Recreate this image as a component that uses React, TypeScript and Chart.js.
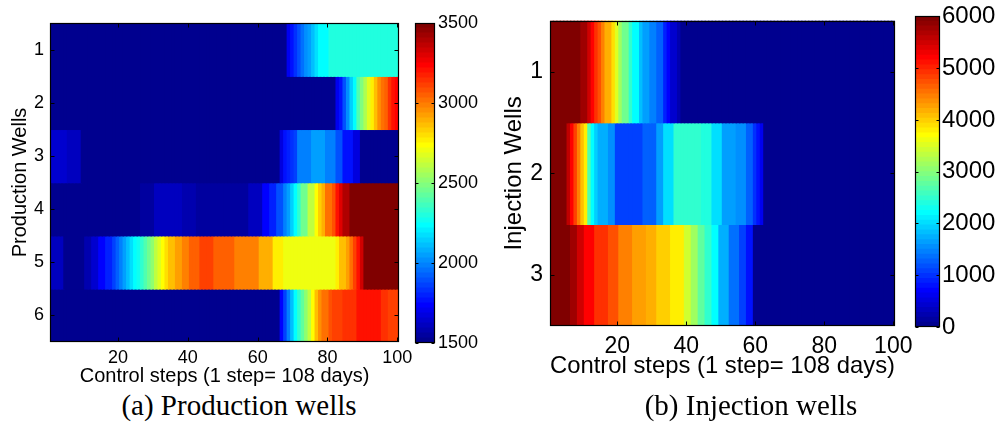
import React, { useEffect, useRef } from 'react';
import { Chart, registerables } from 'chart.js';

Chart.register(...registerables);

// ---------------- data ----------------
const steps: string[] = Array.from({ length: 100 }, (_, i) => String(i + 1));
const stepTickLabels = ['20', '40', '60', '80', '100'];
const productionWells = ['1', '2', '3', '4', '5', '6'];
const injectionWells = ['1', '2', '3'];
const productionRange = [1500, 3500];
const injectionRange = [0, 6000];
const productionBarTicks = [1500, 2000, 2500, 3000, 3500];
const injectionBarTicks = [0, 1000, 2000, 3000, 4000, 5000, 6000];

const prodWell1 = [
  1500, 1500, 1500, 1500, 1500, 1500, 1500, 1500, 1500, 1500,
  1500, 1500, 1500, 1500, 1500, 1500, 1500, 1500, 1500, 1500,
  1500, 1500, 1500, 1500, 1500, 1500, 1500, 1500, 1500, 1500,
  1500, 1500, 1500, 1500, 1500, 1500, 1500, 1500, 1500, 1500,
  1500, 1500, 1500, 1500, 1500, 1500, 1500, 1500, 1500, 1500,
  1500, 1500, 1500, 1500, 1500, 1500, 1500, 1500, 1500, 1500,
  1500, 1500, 1500, 1500, 1500, 1500, 1500, 1500, 1700, 1760,
  1820, 1880, 1940, 2000, 2060, 2120, 2180, 2230, 2240, 2240,
  2290, 2290, 2290, 2290, 2290, 2290, 2290, 2290, 2290, 2290,
  2290, 2290, 2290, 2290, 2290, 2300, 2300, 2300, 2300, 2300,
];
const prodWell2 = [
  1500, 1500, 1500, 1500, 1500, 1500, 1500, 1500, 1500, 1500,
  1500, 1500, 1500, 1500, 1500, 1500, 1500, 1500, 1500, 1500,
  1500, 1500, 1500, 1500, 1500, 1500, 1500, 1500, 1500, 1500,
  1500, 1500, 1500, 1500, 1500, 1500, 1500, 1500, 1500, 1500,
  1500, 1500, 1500, 1500, 1500, 1500, 1500, 1500, 1500, 1500,
  1500, 1500, 1500, 1500, 1500, 1500, 1500, 1500, 1500, 1500,
  1500, 1500, 1500, 1500, 1500, 1500, 1500, 1500, 1500, 1500,
  1500, 1500, 1500, 1500, 1500, 1500, 1500, 1500, 1500, 1500,
  1500, 1500, 1700, 1780, 1900, 2020, 2130, 2230, 2400, 2480,
  2580, 2680, 2760, 2860, 2940, 3000, 3060, 3140, 3200, 3240,
];
const prodWell3 = [
  1640, 1640, 1640, 1640, 1640, 1610, 1610, 1610, 1610, 1500,
  1500, 1500, 1500, 1500, 1500, 1500, 1500, 1500, 1500, 1500,
  1500, 1500, 1500, 1500, 1500, 1500, 1500, 1500, 1500, 1500,
  1500, 1500, 1500, 1500, 1500, 1500, 1500, 1500, 1500, 1500,
  1500, 1500, 1500, 1500, 1500, 1500, 1500, 1500, 1500, 1500,
  1500, 1500, 1500, 1500, 1500, 1500, 1500, 1500, 1500, 1500,
  1500, 1500, 1500, 1500, 1500, 1500, 1680, 1750, 1790, 1830,
  1870, 1970, 1970, 1970, 1970, 2050, 2050, 2050, 2050, 1980,
  1980, 1980, 1880, 1880, 1780, 1780, 1780, 1660, 1660, 1500,
  1500, 1500, 1500, 1500, 1500, 1500, 1500, 1500, 1500, 1500,
];
const prodWell4 = [
  1500, 1500, 1500, 1500, 1500, 1500, 1500, 1500, 1500, 1500,
  1500, 1500, 1500, 1500, 1500, 1500, 1500, 1500, 1500, 1500,
  1500, 1500, 1500, 1500, 1500, 1500, 1560, 1560, 1560, 1560,
  1600, 1600, 1600, 1600, 1600, 1600, 1600, 1600, 1580, 1580,
  1580, 1580, 1550, 1550, 1550, 1550, 1550, 1550, 1550, 1550,
  1550, 1550, 1550, 1550, 1550, 1550, 1550, 1620, 1620, 1620,
  1620, 1730, 1730, 1800, 1800, 1880, 1880, 1970, 2060, 2150,
  2240, 2330, 2450, 2450, 2600, 2600, 2730, 2830, 2900, 3000,
  3000, 3090, 3200, 3300, 3400, 3400, 3500, 3500, 3500, 3500,
  3500, 3500, 3500, 3500, 3500, 3500, 3500, 3500, 3500, 3500,
];
const prodWell5 = [
  1620, 1620, 1620, 1620, 1530, 1530, 1530, 1530, 1530, 1530,
  1580, 1580, 1650, 1650, 1720, 1720, 1800, 1800, 1860, 1920,
  1980, 2040, 2100, 2170, 2220, 2280, 2340, 2400, 2460, 2530,
  2600, 2660, 2740, 2800, 2860, 2860, 2930, 2930, 2990, 2990,
  3060, 3060, 3060, 3110, 3110, 3110, 3110, 3040, 3040, 3040,
  3040, 3040, 3040, 2970, 2970, 2970, 2970, 2970, 2970, 2970,
  2880, 2880, 2880, 2880, 2760, 2760, 2760, 2690, 2690, 2690,
  2690, 2690, 2690, 2690, 2690, 2690, 2690, 2690, 2690, 2690,
  2690, 2690, 2780, 2850, 2850, 2920, 3000, 3100, 3200, 3320,
  3500, 3500, 3500, 3500, 3500, 3500, 3500, 3500, 3500, 3500,
];
const prodWell6 = [
  1500, 1500, 1500, 1500, 1500, 1500, 1500, 1500, 1500, 1500,
  1500, 1500, 1500, 1500, 1500, 1500, 1500, 1500, 1500, 1500,
  1500, 1500, 1500, 1500, 1500, 1500, 1500, 1500, 1500, 1500,
  1500, 1500, 1500, 1500, 1500, 1500, 1500, 1500, 1500, 1500,
  1500, 1500, 1500, 1500, 1500, 1500, 1500, 1500, 1500, 1500,
  1500, 1500, 1500, 1500, 1500, 1500, 1500, 1500, 1500, 1500,
  1500, 1500, 1500, 1500, 1500, 1500, 1720, 1850, 1970, 2100,
  2220, 2320, 2420, 2520, 2620, 2720, 2850, 2950, 3030, 3030,
  3080, 3110, 3110, 3110, 3150, 3150, 3150, 3150, 3200, 3200,
  3200, 3200, 3200, 3200, 3200, 3140, 3140, 3100, 3100, 3100,
];

const injWell1 = [
  6000, 6000, 6000, 6000, 6000, 6000, 6000, 6000, 6000, 5750,
  5750, 5450, 5200, 4950, 4750, 4450, 4150, 4150, 3900, 3550,
  3150, 2850, 2850, 2480, 2200, 2200, 1830, 1640, 1640, 1450,
  1450, 1260, 1260, 900, 700, 400, 400, 200, 0, 0,
  0, 0, 0, 0, 0, 0, 0, 0, 0, 0,
  0, 0, 0, 0, 0, 0, 0, 0, 0, 0,
  0, 0, 0, 0, 0, 0, 0, 0, 0, 0,
  0, 0, 0, 0, 0, 0, 0, 0, 0, 0,
  0, 0, 0, 0, 0, 0, 0, 0, 0, 0,
  0, 0, 0, 0, 0, 0, 0, 0, 0, 0,
];
const injWell2 = [
  6000, 6000, 6000, 6000, 6000, 5600, 5200, 4800, 4450, 4100,
  3800, 2700, 2200, 1900, 1700, 1700, 1700, 1500, 1500, 1050,
  1050, 1050, 1050, 1050, 1050, 1050, 1050, 1250, 1250, 1250,
  1250, 1650, 1650, 2050, 2050, 2050, 2450, 2450, 2450, 2450,
  2450, 2450, 2450, 2450, 2350, 2350, 2350, 2050, 2050, 2050,
  1650, 1650, 1650, 1650, 1500, 1500, 1500, 1270, 1270, 950,
  800, 600, 0, 0, 0, 0, 0, 0, 0, 0,
  0, 0, 0, 0, 0, 0, 0, 0, 0, 0,
  0, 0, 0, 0, 0, 0, 0, 0, 0, 0,
  0, 0, 0, 0, 0, 0, 0, 0, 0, 0,
];
const injWell3 = [
  6000, 6000, 6000, 6000, 6000, 6000, 5750, 5750, 5500, 5500,
  5200, 5200, 5200, 4950, 4950, 4950, 4950, 4700, 4700, 4700,
  4450, 4450, 4450, 4450, 4250, 4250, 4250, 4250, 4150, 4150,
  4150, 4000, 4000, 4000, 4000, 3750, 3750, 3750, 3750, 3400,
  3400, 3100, 3100, 2800, 2800, 2500, 2500, 2200, 2200, 1700,
  1700, 1700, 1350, 1350, 1350, 1050, 1050, 800, 800, 0,
  0, 0, 0, 0, 0, 0, 0, 0, 0, 0,
  0, 0, 0, 0, 0, 0, 0, 0, 0, 0,
  0, 0, 0, 0, 0, 0, 0, 0, 0, 0,
  0, 0, 0, 0, 0, 0, 0, 0, 0, 0,
];

const productionRows = [prodWell1, prodWell2, prodWell3, prodWell4, prodWell5, prodWell6];
const injectionRows = [injWell1, injWell2, injWell3];

// ---------------- colormap (MATLAB jet, 64 levels) ----------------
const LEVELS = 64;
function jetIndex(i: number): string {
  let r = 0, g = 0, b = 0;
  if (i <= 8) { b = 0.5 + i * 0.0625; }
  else if (i <= 24) { g = (i - 8) * 0.0625; b = 1; }
  else if (i <= 40) { r = (i - 24) * 0.0625; g = 1; b = 1 - (i - 24) * 0.0625; }
  else if (i <= 56) { r = 1; g = 1 - (i - 40) * 0.0625; }
  else { r = 1 - (i - 56) * 0.0625; }
  return `rgb(${Math.round(r * 255)},${Math.round(g * 255)},${Math.round(b * 255)})`;
}
function jet(v: number, lo: number, hi: number): string {
  let i = Math.floor(((v - lo) / (hi - lo)) * LEVELS) + 1;
  if (i < 1) i = 1;
  if (i > LEVELS) i = LEVELS;
  return jetIndex(i);
}

const SANS = "'Liberation Sans', Arial, Helvetica, sans-serif";

// frame + inward tick marks
const frameTicksPlugin = {
  id: 'frameTicks',
  afterDatasetsDraw(chart: any, _args: any, opts: any) {
    const { ctx, chartArea: a } = chart;
    const L = Math.round(a.left) + 0.5;
    const R = Math.round(a.right) - 0.5;
    const T = Math.round(a.top) + 0.5;
    const B = Math.round(a.bottom) - 0.5;
    const len = opts.len || 4;
    ctx.save();
    ctx.strokeStyle = '#000';
    ctx.lineWidth = 1;
    ctx.beginPath();
    if (opts.x) {
      const xs = chart.scales.x;
      xs.ticks.forEach((t: any) => {
        const px = Math.round(xs.getPixelForValue(t.value)) + 0.5;
        ctx.moveTo(px, T); ctx.lineTo(px, T + len);
        ctx.moveTo(px, B); ctx.lineTo(px, B - len);
      });
    }
    if (opts.y) {
      const ys = chart.scales.y;
      ys.ticks.forEach((t: any) => {
        const py = Math.round(ys.getPixelForValue(t.value)) + 0.5;
        ctx.moveTo(L, py); ctx.lineTo(L + len, py);
        ctx.moveTo(R, py); ctx.lineTo(R - len, py);
      });
    }
    ctx.stroke();
    ctx.lineWidth = 1.2;
    ctx.strokeRect(L, T, R - L, B - T);
    ctx.restore();
  },
};

interface HeatOpts {
  rows: number[][];
  wells: string[];
  range: number[];
  xTitle: string;
  yTitle: string;
  tickSize: number;
  titleSize: number;
  yTitlePad: number;
  yTickPad: number;
  xTickPad: number;
  padding: { left: number; top: number; right: number; bottom: number };
  yWidth: number;
  xHeight: number;
  tickLen: number;
}

function heatmapConfig(o: HeatOpts): any {
  const [lo, hi] = o.range;
  return {
    type: 'bar',
    data: {
      labels: steps,
      datasets: o.rows.map((vals, r) => ({
        data: vals.map(() => [r + 0.5, r + 1.5]),
        backgroundColor: vals.map((v) => jet(v, lo, hi)),
        borderWidth: 0,
        inflateAmount: 0.7,
        grouped: false,
        barPercentage: 1,
        categoryPercentage: 1,
      })),
    },
    options: {
      animation: false,
      responsive: false,
      maintainAspectRatio: false,
      events: [],
      layout: { padding: o.padding },
      plugins: {
        legend: { display: false },
        tooltip: { enabled: false },
        frameTicks: { x: true, y: true, len: o.tickLen },
      },
      scales: {
        x: {
          type: 'category',
          grid: { display: false, drawTicks: false },
          border: { display: false },
          afterBuildTicks: (s: any) => {
            s.ticks = stepTickLabels.map((l) => ({ value: steps.indexOf(l) }));
          },
          afterFit: (s: any) => { s.height = o.xHeight; },
          ticks: {
            autoSkip: false,
            maxRotation: 0,
            minRotation: 0,
            padding: o.xTickPad,
            color: '#000',
            font: { family: SANS, size: o.tickSize },
          },
          title: {
            display: true,
            text: o.xTitle,
            color: '#000',
            font: { family: SANS, size: o.titleSize },
            padding: { top: 0, bottom: 0 },
          },
        },
        y: {
          type: 'linear',
          reverse: true,
          min: 0.5,
          max: o.wells.length + 0.5,
          grid: { display: false, drawTicks: false },
          border: { display: false },
          afterBuildTicks: (s: any) => {
            s.ticks = o.wells.map((_, i) => ({ value: i + 1 }));
          },
          afterFit: (s: any) => { s.width = o.yWidth; },
          ticks: {
            padding: o.yTickPad,
            color: '#000',
            font: { family: SANS, size: o.tickSize },
            callback: (v: any) => o.wells[Number(v) - 1],
          },
          title: {
            display: true,
            text: o.yTitle,
            color: '#000',
            font: { family: SANS, size: o.titleSize },
            padding: { top: o.yTitlePad, bottom: 0 },
          },
        },
      },
    },
    plugins: [frameTicksPlugin],
  };
}

interface BarOpts {
  range: number[];
  ticks: number[];
  tickSize: number;
  tickPad: number;
  padding: { left: number; top: number; right: number; bottom: number };
  yWidth: number;
}

function colorbarConfig(o: BarOpts): any {
  const [lo, hi] = o.range;
  const step = (hi - lo) / LEVELS;
  const levels = Array.from({ length: LEVELS }, (_, k) => k);
  return {
    type: 'bar',
    data: {
      labels: [''],
      datasets: levels.map((k) => ({
        data: [[lo + k * step, lo + (k + 1) * step]],
        backgroundColor: jetIndex(k + 1),
        borderWidth: 0,
        inflateAmount: 0.5,
        grouped: false,
        barPercentage: 1,
        categoryPercentage: 1,
      })),
    },
    options: {
      animation: false,
      responsive: false,
      maintainAspectRatio: false,
      events: [],
      layout: { padding: o.padding },
      plugins: {
        legend: { display: false },
        tooltip: { enabled: false },
        frameTicks: { x: false, y: true, len: 3 },
      },
      scales: {
        x: { display: false },
        y: {
          position: 'right',
          min: lo,
          max: hi,
          grid: { display: false, drawTicks: false },
          border: { display: false },
          afterBuildTicks: (s: any) => {
            s.ticks = o.ticks.map((v) => ({ value: v }));
          },
          afterFit: (s: any) => { s.width = o.yWidth; },
          ticks: {
            padding: o.tickPad,
            color: '#000',
            font: { family: SANS, size: o.tickSize },
            callback: (v: any) => String(v),
          },
        },
      },
    },
    plugins: [frameTicksPlugin],
  };
}

function ChartCanvas(props: { make: () => any; left: number; top: number; width: number; height: number }) {
  const ref = useRef<HTMLCanvasElement>(null);
  useEffect(() => {
    const chart = new Chart(ref.current as HTMLCanvasElement, props.make());
    return () => chart.destroy();
  }, []);
  return (
    <canvas
      ref={ref}
      width={props.width}
      height={props.height}
      style={{ position: 'absolute', left: props.left, top: props.top, width: props.width, height: props.height }}
    />
  );
}

const captionStyle: React.CSSProperties = {
  position: 'absolute',
  top: 389,
  height: 32,
  lineHeight: '32px',
  fontFamily: "'Liberation Serif', 'Times New Roman', serif",
  fontSize: 29,
  color: '#000',
  textAlign: 'center',
  whiteSpace: 'nowrap',
};

export default function App() {
  return (
    <div style={{ position: 'fixed', left: 0, top: 0, width: 1005, height: 437, background: '#fff', overflow: 'hidden' }}>
      <ChartCanvas
        left={0}
        top={0}
        width={430}
        height={388}
        make={() =>
          heatmapConfig({
            rows: productionRows,
            wells: productionWells,
            range: productionRange,
            xTitle: 'Control steps (1 step= 108 days)',
            yTitle: 'Production Wells',
            tickSize: 18,
            titleSize: 20,
            yTitlePad: 8,
            yTickPad: 6,
            xTickPad: 5,
            padding: { left: 0, top: 23, right: 31, bottom: 0 },
            yWidth: 50,
            xHeight: 46,
            tickLen: 4,
          })
        }
      />
      <ChartCanvas
        left={405}
        top={0}
        width={90}
        height={360}
        make={() =>
          colorbarConfig({
            range: productionRange,
            ticks: productionBarTicks,
            tickSize: 18,
            tickPad: 3,
            padding: { left: 10, top: 23, right: 0, bottom: 17 },
            yWidth: 60,
          })
        }
      />
      <ChartCanvas
        left={490}
        top={0}
        width={440}
        height={381}
        make={() =>
          heatmapConfig({
            rows: injectionRows,
            wells: injectionWells,
            range: injectionRange,
            xTitle: 'Control steps (1 step= 108 days)',
            yTitle: 'Injection Wells',
            tickSize: 23,
            titleSize: 24,
            yTitlePad: 10,
            yTickPad: 7,
            xTickPad: 7,
            padding: { left: 0, top: 16, right: 35, bottom: 0 },
            yWidth: 60,
            xHeight: 55,
            tickLen: 4,
          })
        }
      />
      <ChartCanvas
        left={905}
        top={0}
        width={100}
        height={360}
        make={() =>
          colorbarConfig({
            range: injectionRange,
            ticks: injectionBarTicks,
            tickSize: 24,
            tickPad: 2,
            padding: { left: 10, top: 16, right: 0, bottom: 33 },
            yWidth: 65,
          })
        }
      />
      <div style={{ ...captionStyle, left: 89, width: 300 }}>(a) Production wells</div>
      <div style={{ ...captionStyle, left: 601, width: 300 }}>(b) Injection wells</div>
    </div>
  );
}
